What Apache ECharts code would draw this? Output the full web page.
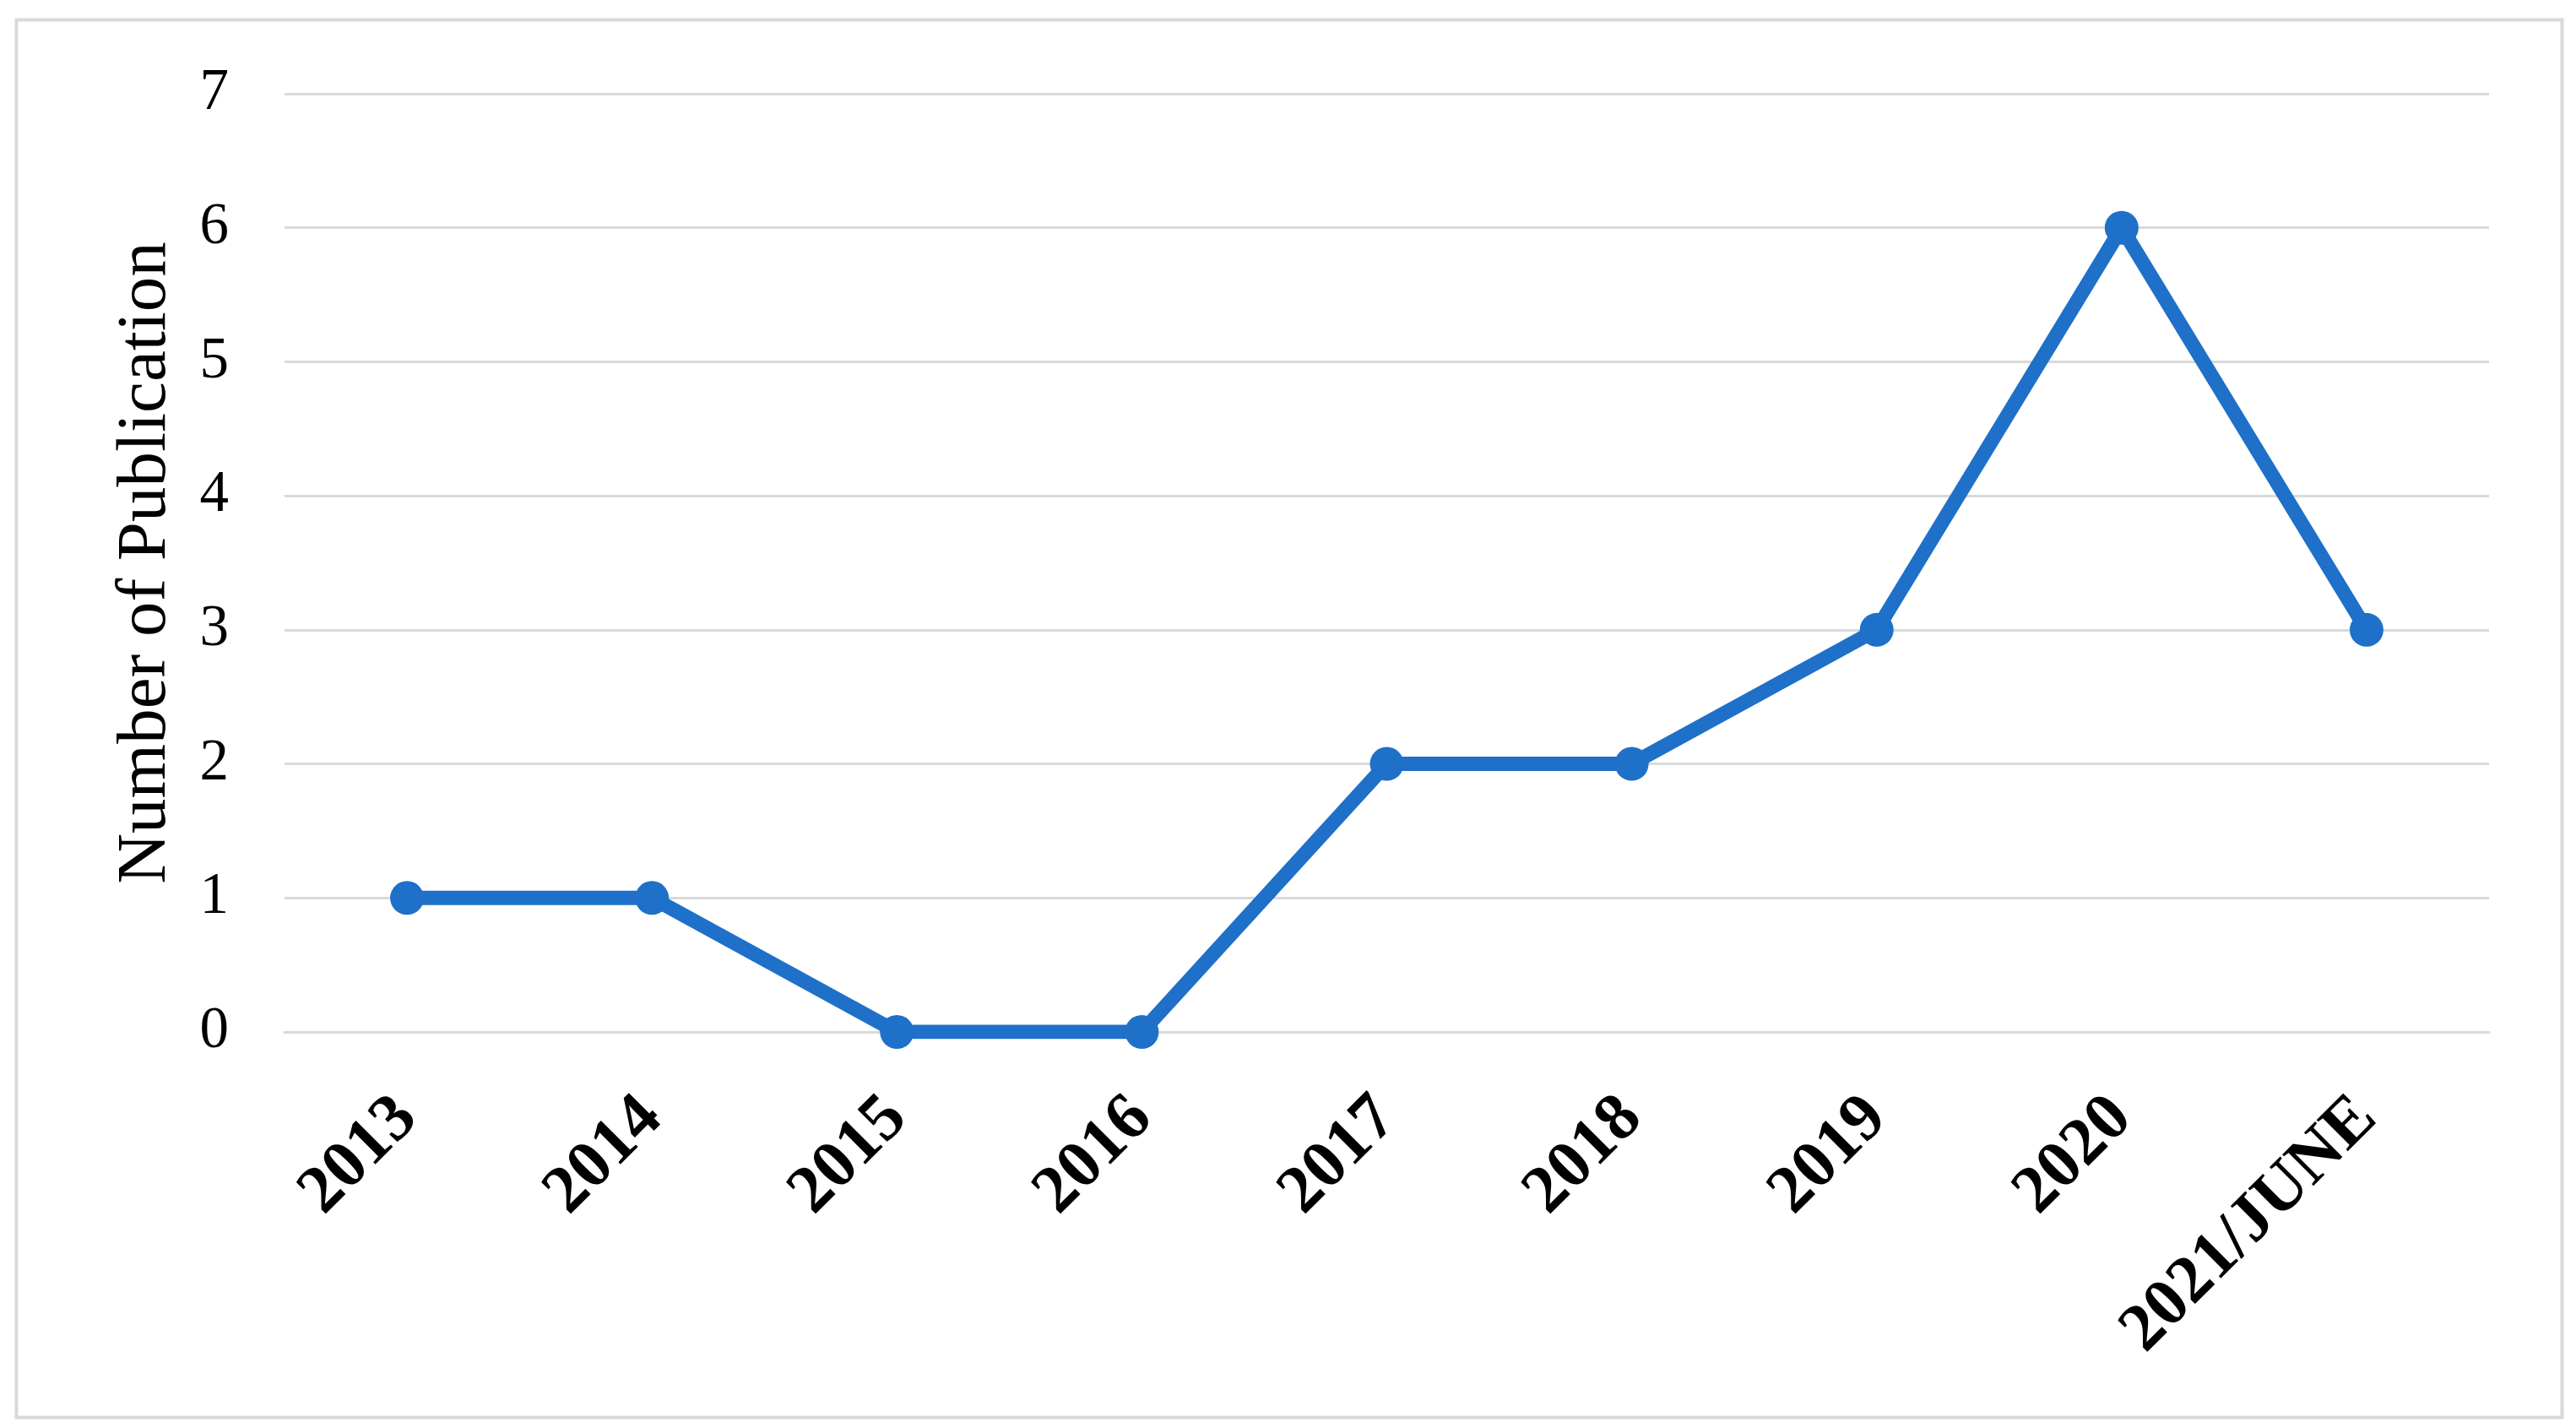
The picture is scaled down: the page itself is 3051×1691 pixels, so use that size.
<!DOCTYPE html>
<html>
<head>
<meta charset="utf-8">
<script src="https://cdn.jsdelivr.net/npm/echarts@6/dist/echarts.min.js"></script>
<style>
html,body{margin:0;padding:0;background:#fff;}
#chart{width:3051px;height:1691px;}
</style>
</head>
<body>
<div id="chart"></div>
<script>
const categories = ['2013','2014','2015','2016','2017','2018','2019','2020','2021/JUNE'];
const publications = [1,1,0,0,2,2,3,6,3];
const yTicks = [0,1,2,3,4,5,6,7];
const yTitle = 'Number of Publication';

const chart = echarts.init(document.getElementById('chart'), null, {renderer:'canvas'});
const serif = '"Liberation Serif","Times New Roman",serif';
chart.setOption({
  backgroundColor:'#ffffff',
  animation:false,
  graphic:[{
    type:'rect', left:17, top:21, z:-1,
    shape:{width:3015, height:1655},
    style:{fill:'none', stroke:'#d9d9d9', lineWidth:4}
  }],
  grid:{left:337, right:103, top:111, bottom:469, containLabel:false},
  xAxis:{
    type:'category',
    data:categories,
    boundaryGap:true,
    axisLine:{show:true, lineStyle:{color:'#d9d9d9', width:3}},
    axisTick:{show:false},
    axisLabel:{rotate:45, margin:90, interval:0, color:'#000', fontFamily:serif, fontWeight:'bold', fontSize:80}
  },
  yAxis:{
    type:'value',
    min:yTicks[0], max:yTicks[yTicks.length-1], interval:1,
    name:yTitle,
    nameLocation:'middle',
    nameGap:122,
    nameTextStyle:{color:'#000', fontFamily:serif, fontSize:83},
    axisLine:{show:false},
    axisTick:{show:false},
    splitLine:{show:true, lineStyle:{color:'#d9d9d9', width:3}},
    axisLabel:{margin:66, color:'#000', fontFamily:serif, fontSize:69}
  },
  series:[{
    type:'line',
    data:publications,
    symbol:'circle',
    symbolSize:40,
    lineStyle:{color:'#1e70c8', width:17},
    itemStyle:{color:'#1e70c8'}
  }]
});
</script>
</body>
</html>
